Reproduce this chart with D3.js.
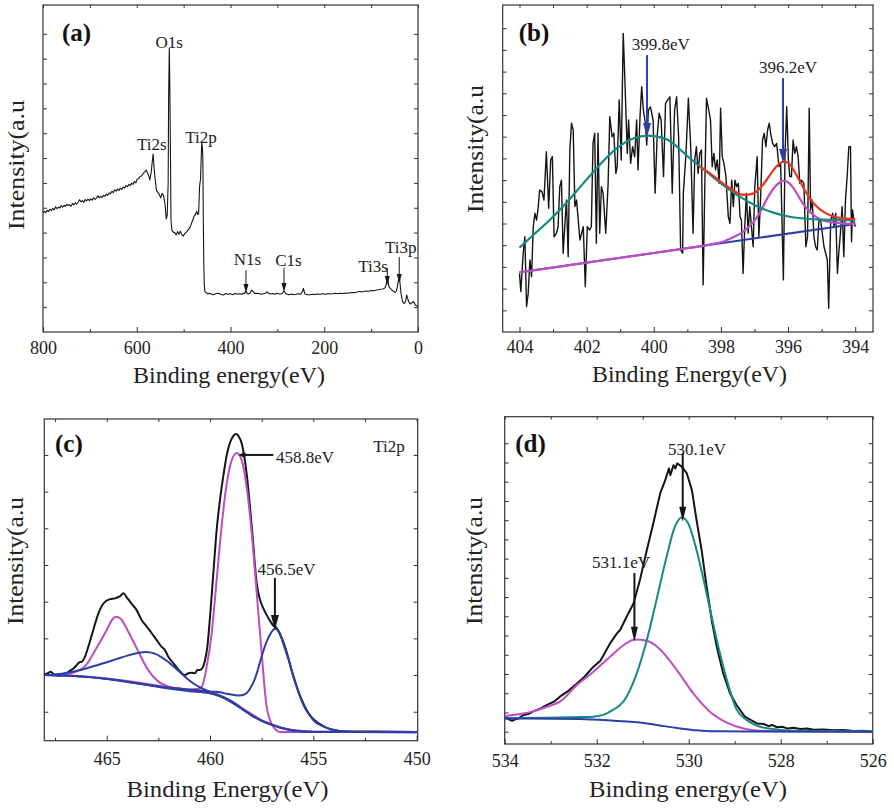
<!DOCTYPE html>
<html>
<head>
<meta charset="utf-8">
<script src="https://cdn.jsdelivr.net/npm/d3@7"></script>
<style>
  body { margin: 0; background: #fff; }
  svg { display: block; }
</style>
</head>
<body>
<div id="chart"></div>
<script>
// ---------- (a) survey spectrum ----------
const surveyA = [
  [800,47.9],[797,48.6],[794,48.0],[791,49.0],[788,48.5],[785,49.4],[782,48.9],[779,49.8],[776,49.2],[773,50.4],
  [770,49.6],[767,50.3],[764,49.9],[761,50.9],[758,50.2],[755,51.0],[752,50.5],[749,51.4],[746,50.9],[743,51.2],
  [740,50.6],[737,51.7],[734,51.2],[731,52.0],[728,51.5],[725,52.3],[722,53.2],[719,52.4],[716,52.9],[713,52.2],
  [710,53.3],[707,52.8],[704,53.5],[701,52.9],[698,53.6],[695,53.1],[692,54.0],[689,53.4],[686,53.9],[683,54.8],
  [680,54.0],[677,54.6],[674,54.1],[671,55.0],[668,54.6],[665,55.5],[662,55.0],[659,56.0],[656,55.6],[653,56.6],
  [650,56.1],[647,57.2],[644,56.7],[641,57.5],[638,57.0],[635,57.9],[632,57.4],[629,58.3],[626,57.9],[623,58.9],
  [620,58.4],[617,59.4],[614,58.9],[611,59.9],[608,59.4],[605,60.6],[602,60.0],[599,61.5],[596,61.8],[593,62.6],
  [590,62.8],[587,63.6],[584,64.2],[580,65.2],[577,64.0],[575,63.2],[572,61.2],[569,64.5],[567,68.5],[565,71.6],
  [563,66.0],[561,62.0],[558,57.0],[555,56.2],[552,55.4],[549,54.0],[546,55.8],[543,55.0],[540,52.0],[537,45.5],
  [535,47.0],[533,60.0],[532,95.0],[530.5,114.2],[529.5,100.0],[528,70.0],[527,45.0],[525,41.0],[522,40.2],[519,40.0],
  [516,39.0],[513,40.4],[510,39.3],[507,40.6],[504,39.2],[501,38.6],[498,39.5],[494,40.2],[490,41.2],[486,42.2],
  [482,44.3],[478,46.5],[475,47.2],[472,48.6],[470,47.3],[468,47.6],[466,58.5],[464,61.5],[462.5,70.0],[461.5,76.0],
  [460,74.5],[459,70.0],[458,45.0],[457,28.0],[456,19.0],[454.5,16.3],[452,15.8],[448,15.3],[444,15.6],[440,15.1],
  [436.6,15.0],[430,15.5],[426,15.6],[420,15.1],[415.3,14.9],[410,15.5],[405,15.2],[401.1,15.4],[395,15.0],[390,15.6],
  [386.9,15.2],[380,15.4],[375,15.1],[372.6,15.6],[370,15.5],[367,16.6],[364,15.4],[362,15.3],[358,15.7],[355,16.9],
  [350,15.9],[347.8,15.5],[340.6,15.6],[335,15.2],[330,15.4],[325,15.6],[322.8,16.2],[319,15.6],[315.7,15.3],[310,15.5],
  [305,15.2],[301.5,15.6],[295,15.3],[290,15.5],[285.9,16.5],[282,15.4],[280.2,15.3],[275,15.0],[270,15.3],[266,15.0],
  [260,15.2],[255,15.4],[250,15.2],[246,16.5],[244.6,17.6],[242,15.8],[241.1,15.3],[236,15.0],[230.4,15.0],[225,15.2],
  [220,15.1],[215,15.3],[209.1,15.2],[203,15.4],[197,15.2],[192,15.5],[187.7,15.3],[182,15.4],[176,15.6],[171,15.4],
  [166.4,15.6],[160,15.5],[155,15.7],[150,15.6],[145.1,15.8],[140,15.9],[135,15.8],[130,16.1],[125,16.3],[123.8,16.4],
  [120,16.1],[116.6,16.3],[110,16.5],[106,16.4],[102.4,16.6],[98,16.7],[94,16.6],[88.2,16.9],[84,17.0],[80,17.2],
  [76,17.3],[74,17.4],[70,17.8],[68.3,18.9],[65.4,21.6],[63.5,19.8],[61.9,18.2],[59,17.6],[56.2,16.9],[52,16.4],
  [49.1,15.8],[46.5,16.4],[44.1,18.2],[41.5,21.0],[39.8,22.3],[38,19.0],[36.3,15.6],[34,13.2],[32.7,12.2],[30.5,11.6],
  [28.5,11.5],[26,12.8],[24.2,14.9],[22,13.5],[20,12.2],[17.5,11.5],[15.6,11.3],[13,11.8],[10,12.2],[7.5,11.6],
  [5.7,10.9],[3,10.6],[0,10.2]
];
const labelsA = [
  {t:'O1s', be:531, v:114.3}, {t:'Ti2s', be:568, v:73.2}, {t:'Ti2p', be:463, v:76.1},
  {t:'N1s', be:363.7, v:27.0}, {t:'C1s', be:276.3, v:26.7}, {t:'Ti3s', be:96, v:24.3}, {t:'Ti3p', be:36.7, v:31.8}
];
const arrowsA = [
  {be:367, v1:24.9, v2:15.7}, {be:285.9, v1:25.8, v2:16.1},
  {be:65.5, v1:25.8, v2:18.9}, {be:40, v1:30.2, v2:19.7}
];
const xTicksA = [800, 600, 400, 200, 0];
const xMinorA = [700, 500, 300, 100];

// ---------- (b) N1s ----------
const rawB = [
  [404.0,2.70],[403.96,1.86],[403.89,3.63],[403.84,4.39],[403.79,1.17],[403.74,1.78],[403.69,3.32],[403.64,2.55],
  [403.59,4.85],[403.54,5.47],[403.49,5.16],[403.44,5.78],[403.40,6.54],[403.33,6.47],[403.27,6.08],[403.20,8.31],
  [403.13,5.70],[403.07,7.93],[403.02,8.08],[402.97,4.39],[402.90,4.55],[402.85,4.85],[402.80,6.70],[402.75,7.00],
  [402.70,3.63],[402.64,5.16],[402.60,6.08],[402.55,3.47],[402.50,8.39],[402.45,9.62],[402.40,9.31],[402.35,5.78],
  [402.30,6.08],[402.20,4.24],[402.10,4.85],[402.04,2.09],[401.98,4.85],[401.91,4.70],[401.86,4.85],[401.81,8.69],
  [401.76,9.16],[401.71,4.09],[401.66,9.16],[401.61,4.55],[401.56,6.70],[401.51,6.39],[401.43,4.55],[401.36,6.85],
  [401.31,9.92],[401.24,9.00],[401.19,9.16],[401.13,7.31],[401.09,7.62],[401.03,10.69],[400.97,7.93],[400.91,13.76],
  [400.86,11.61],[400.79,8.23],[400.75,9.77],[400.69,7.77],[400.63,8.54],[400.57,8.08],[400.51,9.77],[400.47,7.47],
  [400.41,9.92],[400.36,11.31],[400.31,10.23],[400.25,9.62],[400.21,8.62],[400.16,10.23],[400.10,10.38],[400.02,9.77],
  [399.96,6.39],[399.90,9.00],[399.84,10.08],[399.78,9.77],[399.71,7.16],[399.65,10.54],[399.59,10.69],[399.52,10.84],
  [399.45,6.39],[399.38,10.23],[399.32,10.84],[399.26,9.00],[399.20,3.78],[399.14,3.63],[399.12,6.39],[399.04,8.23],
  [398.97,10.77],[398.90,8.54],[398.83,4.55],[398.78,7.93],[398.73,8.54],[398.68,7.31],[398.63,8.23],[398.58,8.39],
  [398.53,2.17],[398.48,6.70],[398.43,10.77],[398.38,10.38],[398.31,9.77],[398.26,7.62],[398.21,8.23],[398.16,7.47],
  [398.11,7.93],[398.05,6.85],[398.01,10.31],[397.96,8.08],[397.91,7.77],[397.85,7.16],[397.78,5.31],[397.73,5.01],
  [397.68,7.00],[397.63,5.78],[397.58,7.00],[397.53,6.70],[397.48,6.85],[397.43,5.31],[397.39,5.16],[397.34,2.70],
  [397.29,4.85],[397.24,6.39],[397.19,4.55],[397.14,5.78],[397.09,4.85],[397.04,3.93],[396.99,6.70],[396.92,8.08],
  [396.87,4.39],[396.82,6.08],[396.76,8.85],[396.71,9.16],[396.66,8.54],[396.61,9.31],[396.56,9.62],[396.52,9.16],
  [396.46,8.69],[396.40,8.54],[396.34,8.69],[396.27,7.62],[396.22,7.77],[396.14,2.40],[396.09,8.23],[396.04,10.38],
  [395.99,7.93],[395.95,7.16],[395.90,7.16],[395.85,8.85],[395.80,8.23],[395.75,8.54],[395.70,8.08],[395.65,6.85],
  [395.60,7.00],[395.53,6.85],[395.47,3.93],[395.42,4.39],[395.37,10.31],[395.33,5.62],[395.28,6.08],[395.23,4.39],
  [395.18,3.93],[395.13,3.78],[395.08,5.16],[395.03,5.16],[394.98,4.55],[394.93,3.93],[394.88,3.63],[394.83,3.32],
  [394.79,1.09],[394.73,5.16],[394.67,5.47],[394.63,4.85],[394.58,5.47],[394.53,2.70],[394.49,3.63],[394.44,4.55],
  [394.39,5.78],[394.34,3.47],[394.29,6.08],[394.24,7.16],[394.19,8.54],[394.14,8.54],[394.11,4.16],[394.08,5.62],
  [394.04,5.16],[394.0,4.85]
];
const peak1B = [
  [404.0,3.89],[403.59,4.47],[403.10,5.16],[402.60,5.96],[402.10,6.85],[401.61,7.70],[401.11,8.46],[400.61,8.92],
  [400.17,9.05],[399.62,8.88],[399.12,8.28],[398.92,8.00],[398.43,7.39],[397.93,6.77],[397.44,6.24],[396.94,5.81],
  [396.44,5.50],[395.95,5.31],[395.45,5.22],[394.95,5.18],[394.46,5.16],[394.0,5.16]
];
const totalB = [
  [398.63,7.62],[398.43,7.42],[397.93,6.84],[397.63,6.52],[397.34,6.32],[397.04,6.38],[396.74,6.80],[396.44,7.45],
  [396.24,7.78],[396.14,7.85],[396.0,7.80],[395.85,7.50],[395.65,6.95],[395.45,6.40],[395.25,5.95],[395.05,5.65],
  [394.75,5.38],[394.46,5.26],[394.0,5.20]
];
const peak2B = [
  [404.0,2.75],[403.0,2.97],[402.0,3.20],[401.0,3.42],[400.0,3.64],[399.0,3.86],[398.5,3.98],[398.23,4.06],
  [397.93,4.16],[397.73,4.30],[397.44,4.52],[397.24,4.75],[397.04,5.05],[396.84,5.50],[396.64,6.10],[396.44,6.60],
  [396.24,6.90],[396.14,6.97],[396.0,6.90],[395.85,6.65],[395.65,6.15],[395.45,5.70],[395.25,5.40],[395.05,5.20],
  [394.75,5.07],[394.46,5.02],[394.0,4.98]
];
const baseB = [[404.0,2.75],[394.0,4.98]];
const labelsB = [{t:'399.8eV', be:399.79, v:13.0}, {t:'396.2eV', be:396.0, v:11.94}];
const arrowsB = [{be:400.2, v1:12.76, v2:8.99}, {be:396.15, v1:11.7, v2:7.79}];
const xTicksB = [404, 402, 400, 398, 396, 394];
const xMinorB = [403, 401, 399, 397, 395];

// ---------- (c) Ti2p ----------
const rawC = [
  [468.02,2.02],[467.82,2.06],[467.71,2.09],[467.58,2.03],[467.42,1.99],[467.26,1.99],[467.10,2.03],[466.94,2.06],
  [466.77,2.12],[466.61,2.18],[466.45,2.27],[466.32,2.35],[466.21,2.36],[466.05,2.50],[465.89,2.77],[465.65,3.23],
  [465.40,3.68],[465.16,3.95],[464.84,4.07],[464.60,4.09],[464.35,4.15],[464.19,4.23],[464.03,4.12],[463.79,3.94],
  [463.55,3.77],[463.31,3.50],[463.06,3.32],[462.82,3.14],[462.58,2.95],[462.34,2.77],[462.18,2.68],[462.02,2.50],
  [461.77,2.32],[461.53,2.15],[461.37,2.05],[461.21,2.00],[461.05,2.05],[460.89,2.06],[460.73,2.05],[460.61,2.14],
  [460.48,2.14],[460.35,2.21],[460.24,2.41],[460.13,2.77],[460.00,3.59],[459.84,4.77],[459.68,5.95],[459.52,6.77],
  [459.35,7.45],[459.19,8.00],[459.03,8.34],[458.87,8.52],[458.74,8.57],[458.63,8.52],[458.47,8.32],[458.23,7.50],
  [457.98,6.05],[457.74,4.50],[457.58,4.05],[457.42,3.82],[457.26,3.64],[457.10,3.48],[456.94,3.35],[456.77,3.28],
  [456.61,3.10],[456.45,2.90],[456.29,2.62],[456.13,2.30],[455.97,1.98],[455.81,1.70],[455.65,1.44],[455.48,1.22],
  [455.32,1.04],[455.16,0.90],[454.92,0.76],[454.68,0.66],[454.35,0.56],[454.03,0.50],[453.55,0.47],[452.0,0.46],
  [450.0,0.45]
];
const sat1C = [   // magenta, 2p1/2
  [468.0,2.00],[467.0,2.03],[466.5,2.09],[466.0,2.27],[465.5,2.73],[465.0,3.23],[464.75,3.50],[464.55,3.59],
  [464.3,3.52],[464.0,3.23],[463.5,2.68],[463.0,2.14],[462.5,1.82],[462.0,1.68],[461.5,1.63],[461.0,1.59],
  [460.5,1.55],[460.0,1.50],[459.5,1.44],[459.0,1.30],[458.5,1.12],[458.0,0.94],[457.5,0.77],[457.0,0.65],
  [456.5,0.56],[456.0,0.50],[455.0,0.46],[450.0,0.45]
];
const mainC = [   // magenta, 2p3/2
  [468.0,2.00],[466.0,1.96],[464.0,1.84],[462.0,1.67],[461.0,1.61],[460.6,1.62],[460.40,1.68],[460.16,2.23],
  [459.92,3.14],[459.68,4.59],[459.44,6.05],[459.19,7.23],[458.95,7.86],[458.71,8.05],[458.47,7.86],[458.23,7.14],
  [457.98,5.86],[457.74,4.23],[457.50,2.59],[457.26,1.14],[456.94,0.59],[456.61,0.45],[450.0,0.45]
];
const broadC = [  // blue, broad component
  [468.0,2.00],[467.0,2.05],[466.0,2.18],[465.0,2.35],[464.5,2.44],[464.0,2.53],[463.5,2.60],[463.1,2.63],
  [462.7,2.59],[462.3,2.47],[462.0,2.35],[461.6,2.15],[461.2,1.95],[460.8,1.77],[460.4,1.64],[460.0,1.54],
  [459.6,1.46],[459.2,1.36],[458.8,1.23],[458.4,1.06],[458.0,0.90],[457.5,0.75],[457.0,0.64],[456.5,0.55],
  [456.0,0.49],[455.0,0.45],[450.0,0.45]
];
const lowC = [    // blue, 456.5 eV component
  [468.0,2.00],[467.0,1.99],[466.0,1.95],[465.0,1.89],[464.0,1.81],[463.0,1.73],[462.0,1.66],[461.5,1.63],
  [461.0,1.60],[460.5,1.58],[460.0,1.55],[459.5,1.53],[459.2,1.49],[458.9,1.46],[458.6,1.44],[458.3,1.48],
  [458.05,1.64],[457.8,1.94],[457.55,2.41],[457.3,2.86],[457.05,3.15],[456.85,3.26],[456.65,3.17],[456.45,2.85],
  [456.2,2.42],[455.95,1.92],[455.7,1.50],[455.45,1.15],[455.2,0.92],[454.95,0.74],[454.6,0.62],[454.2,0.53],
  [453.7,0.47],[453.0,0.45],[450.0,0.44]
];
const bgC = [
  [468.0,2.00],[466.0,1.95],[465.0,1.90],[464.0,1.82],[463.0,1.73],[462.0,1.63],[461.0,1.56],[460.0,1.50],
  [459.5,1.41],[459.0,1.27],[458.5,1.09],[458.0,0.91],[457.5,0.75],[457.0,0.64],[456.5,0.55],[456.0,0.49],
  [455.0,0.45],[453.0,0.45],[450.0,0.44]
];
const labelsC = [{t:'456.5eV', be:456.3, v:4.73}];
const arrowsC = [{be:456.86, v1:4.65, v2:3.23}];
const leaderC = {be1:458.63, be2:456.94, v:8.0, t:'458.8eV', tbe:456.81, tv:7.77};
const xTicksC = [465, 460, 455, 450];
const xMinorC = [467.5, 462.5, 457.5, 452.5];

// ---------- (d) O1s ----------
const rawD = [
  [534.0,1.78],[533.91,1.64],[533.84,1.57],[533.77,1.64],[533.70,1.69],[533.59,1.87],[533.48,1.92],[533.37,2.07],
  [533.22,2.21],[533.08,2.39],[532.93,2.56],[532.80,2.82],[532.64,3.08],[532.43,3.51],[532.28,3.82],[532.07,4.38],
  [531.92,4.69],[531.71,5.59],[531.56,6.11],[531.49,6.29],[531.35,6.98],[531.20,7.67],[531.06,8.89],[530.91,10.45],
  [530.77,11.83],[530.62,13.39],[530.51,14.08],[530.43,14.69],[530.40,14.34],[530.33,14.86],[530.29,14.69],[530.25,14.95],
  [530.15,14.78],[530.04,14.43],[529.93,13.56],[529.83,12.01],[529.72,10.45],[529.61,8.54],[529.50,6.81],[529.39,5.42],
  [529.25,4.03],[529.10,2.99],[528.96,2.39],[528.78,1.78],[528.52,1.43],[528.37,1.40],[528.26,1.29],[528.19,1.35],
  [528.08,1.23],[527.97,1.26],[527.86,1.17],[527.72,1.21],[527.57,1.14],[527.43,1.17],[527.28,1.10],[527.07,1.12],
  [526.85,1.07],[526.63,1.09],[526.41,1.03],[526.20,1.05],[526.0,1.00]
];
const latticeD = [ // teal, 530.1 eV
  [534.0,1.69],[533.08,1.73],[532.36,1.76],[532.07,1.78],[531.71,2.04],[531.35,2.82],[531.13,4.03],[530.91,5.77],
  [530.70,7.85],[530.48,10.10],[530.30,11.66],[530.15,12.14],[530.01,11.83],[529.83,10.45],[529.61,8.19],[529.39,5.77],
  [529.17,3.69],[528.96,2.16],[528.74,1.61],[528.45,1.26],[528.09,1.12],[527.64,1.05],[526.0,1.02]
];
const hydroxD = [ // magenta, 531.1 eV
  [534.0,1.81],[533.66,1.92],[533.37,2.07],[533.08,2.30],[532.80,2.56],[532.43,3.43],[532.07,4.12],[531.71,4.90],
  [531.41,5.51],[531.17,5.80],[530.91,5.73],[530.62,5.28],[530.26,4.21],[529.90,2.99],[529.54,2.04],[529.17,1.47],
  [528.81,1.17],[528.45,1.05],[528.01,1.02],[526.0,1.00]
];
const bgD = [
  [534.0,1.69],[532.36,1.66],[531.63,1.57],[531.20,1.50],[530.91,1.43],[530.54,1.29],[530.18,1.17],[529.82,1.07],
  [529.46,1.02],[526.0,1.00]
];
const labelsD = [{t:'530.1eV', be:529.82, v:15.39}, {t:'531.1eV', be:531.47, v:9.51}];
const arrowsD = [{be:530.13, v1:15.49, v2:11.92}, {be:531.18, v1:9.25, v2:5.68}];
const xTicksD = [534, 532, 530, 528, 526];
const xMinorD = [533, 531, 529, 527];

// ---------- drawing ----------
const SERIF = '"Liberation Serif", "Times New Roman", serif';
const BLACK = '#151515', TEAL = '#138a84', MAG = '#c04cc2', RED = '#e5361f', BLUE = '#2c3fa6';

const svg = d3.select('#chart').append('svg')
  .attr('width', 894).attr('height', 808)
  .style('background', '#fff');

function panel(c) {
  const g = svg.append('g');
  const x = d3.scaleLinear().domain(c.xDomain).range([c.x0, c.x1]);
  const y = d3.scaleLinear().domain(c.yDomain).range([c.y1, c.y0]);

  const styleAxis = sel => {
    sel.select('.domain').remove();
    sel.selectAll('line').attr('stroke', '#333');
    sel.attr('font-family', SERIF).attr('font-size', 18);
    sel.selectAll('text').attr('fill', '#222');
  };
  g.append('g').attr('transform', 'translate(0,' + c.y1 + ')')
    .call(d3.axisBottom(x).tickValues(c.xMajor).tickSize(-5).tickPadding(c.pad).tickFormat(d3.format('d')))
    .call(styleAxis);
  g.append('g').attr('transform', 'translate(0,' + c.y1 + ')')
    .call(d3.axisBottom(x).tickValues(c.xMinor).tickSize(-3).tickFormat(''))
    .call(styleAxis);
  g.append('g').attr('transform', 'translate(0,' + c.y0 + ')')
    .call(d3.axisTop(x).tickValues(c.xMajor.concat(c.xMinor)).tickSize(-3).tickFormat(''))
    .call(styleAxis);
  g.append('g').attr('transform', 'translate(' + c.x0 + ',0)')
    .call(d3.axisLeft(y).tickValues(c.yTicks).tickSize(-4).tickFormat(''))
    .call(styleAxis);
  g.append('g').attr('transform', 'translate(' + c.x1 + ',0)')
    .call(d3.axisRight(y).tickValues(c.yTicks).tickSize(-4).tickFormat(''))
    .call(styleAxis);

  g.append('rect')
    .attr('x', c.x0).attr('y', c.y0)
    .attr('width', c.x1 - c.x0).attr('height', c.y1 - c.y0)
    .attr('fill', 'none').attr('stroke', '#333').attr('stroke-width', 1.2);

  // series
  c.series.forEach(s => {
    const line = d3.line().x(d => x(d[0])).y(d => y(d[1]))
      .curve(s.smooth ? d3.curveMonotoneX : d3.curveLinear);
    g.append('path').datum(s.data)
      .attr('d', line)
      .attr('fill', 'none')
      .attr('stroke', s.color)
      .attr('stroke-width', s.w)
      .attr('stroke-linejoin', 'round');
  });

  // arrows
  (c.arrows || []).forEach(a => {
    const ax = x(a.be), ya = y(a.v1), yb = y(a.v2);
    g.append('line').attr('x1', ax).attr('x2', ax).attr('y1', ya).attr('y2', yb - c.head * 0.6)
      .attr('stroke', c.arrowColor).attr('stroke-width', c.arrowW);
    g.append('path')
      .attr('d', 'M' + ax + ',' + yb + 'L' + (ax - c.headW / 2) + ',' + (yb - c.head) +
                 'L' + (ax + c.headW / 2) + ',' + (yb - c.head) + 'Z')
      .attr('fill', c.arrowColor);
  });

  // peak labels
  (c.labels || []).forEach(l => {
    g.append('text').attr('x', x(l.be)).attr('y', y(l.v))
      .attr('text-anchor', 'middle')
      .attr('font-family', SERIF).attr('font-size', 17).attr('fill', '#222')
      .text(l.t);
  });

  if (c.leader) {
    const L = c.leader;
    g.append('line').attr('x1', x(L.be1) + 4).attr('x2', x(L.be2)).attr('y1', y(L.v)).attr('y2', y(L.v))
      .attr('stroke', BLACK).attr('stroke-width', 2);
    g.append('path')
      .attr('d', 'M' + x(L.be1) + ',' + y(L.v) + 'l7,-3l0,6Z').attr('fill', BLACK);
    g.append('text').attr('x', x(L.tbe)).attr('y', y(L.tv))
      .attr('font-family', SERIF).attr('font-size', 17).attr('fill', '#222').text(L.t);
  }
  if (c.corner) {
    g.append('text').attr('x', x(c.corner.be)).attr('y', y(c.corner.v))
      .attr('text-anchor', 'middle')
      .attr('font-family', SERIF).attr('font-size', 17).attr('fill', '#222').text(c.corner.t);
  }

  // panel letter
  g.append('text').attr('x', c.lx).attr('y', c.ly)
    .attr('font-family', SERIF).attr('font-size', 25).attr('font-weight', 'bold')
    .attr('fill', '#111').text(c.letter);

  // axis titles
  g.append('text').attr('x', c.xt[0]).attr('y', c.xt[1])
    .attr('text-anchor', 'middle')
    .attr('font-family', SERIF).attr('font-size', 23).attr('fill', '#222')
    .attr('textLength', c.xt[2]).attr('lengthAdjust', 'spacingAndGlyphs')
    .text(c.xTitle);
  g.append('text')
    .attr('transform', 'translate(' + c.yt[0] + ',' + c.yt[1] + ') rotate(-90)')
    .attr('text-anchor', 'middle')
    .attr('font-family', SERIF).attr('font-size', 23).attr('fill', '#222')
    .attr('textLength', c.yt[2]).attr('lengthAdjust', 'spacingAndGlyphs')
    .text('Intensity(a.u');
}

panel({
  x0: 43, x1: 418, y0: 5, y1: 332, pad: 9,
  xDomain: [800, 0], xMajor: xTicksA, xMinor: xMinorA,
  yDomain: [0, 131.6], yTicks: d3.range(10, 121, 10),
  series: [{data: surveyA, color: BLACK, w: 1.1}],
  arrows: arrowsA, head: 9, headW: 5, arrowColor: BLACK, arrowW: 1,
  labels: labelsA,
  letter: '(a)', lx: 62, ly: 41,
  xTitle: 'Binding energy(eV)', xt: [229, 383, 192], yt: [24, 165, 130]
});

panel({
  x0: 502.7, x1: 873, y0: 5, y1: 332, pad: 8,
  xDomain: [404.5, 393.47], xMajor: xTicksB, xMinor: xMinorB,
  yDomain: [0, 15.07], yTicks: d3.range(1, 15),
  series: [
    {data: rawB, color: BLACK, w: 1.4},
    {data: baseB, color: BLUE, w: 2},
    {data: peak2B, color: MAG, w: 2.2, smooth: true},
    {data: peak1B, color: TEAL, w: 2.2, smooth: true},
    {data: totalB, color: RED, w: 2.2, smooth: true}
  ],
  arrows: arrowsB, head: 14, headW: 8, arrowColor: BLUE, arrowW: 2,
  labels: labelsB,
  letter: '(b)', lx: 518.7, ly: 41,
  xTitle: 'Binding Energy(eV)', xt: [689.5, 381.7, 195], yt: [483, 149, 128]
});

panel({
  x0: 44.3, x1: 417.7, y0: 419, y1: 740.7, pad: 11.5,
  xDomain: [468.02, 449.95], xMajor: xTicksC, xMinor: xMinorC,
  yDomain: [0.21, 8.98], yTicks: d3.range(1, 9),
  series: [
    {data: rawC, color: BLACK, w: 2, smooth: true},
    {data: sat1C, color: MAG, w: 2, smooth: true},
    {data: mainC, color: MAG, w: 2, smooth: true},
    {data: broadC, color: BLUE, w: 2, smooth: true},
    {data: lowC, color: BLUE, w: 2, smooth: true},
    {data: bgC, color: BLUE, w: 2, smooth: true}
  ],
  arrows: arrowsC, head: 15, headW: 8, arrowColor: BLACK, arrowW: 2,
  labels: labelsC, leader: leaderC,
  corner: {t: 'Ti2p', be: 451.34, v: 8.09},
  letter: '(c)', lx: 55, ly: 452,
  xTitle: 'Binding Energy(eV)', xt: [227.5, 796.7, 202], yt: [23.3, 561, 128]
});

panel({
  x0: 504.7, x1: 872.7, y0: 416.7, y1: 744, pad: 10,
  xDomain: [534, 526], xMajor: xTicksD, xMinor: xMinorD,
  yDomain: [0.36, 17.38], yTicks: d3.range(1, 17),
  series: [
    {data: rawD, color: BLACK, w: 2},
    {data: hydroxD, color: MAG, w: 2, smooth: true},
    {data: latticeD, color: TEAL, w: 2, smooth: true},
    {data: bgD, color: BLUE, w: 2, smooth: true}
  ],
  arrows: arrowsD, head: 15, headW: 7, arrowColor: BLACK, arrowW: 2,
  labels: labelsD,
  letter: '(d)', lx: 515.3, ly: 452,
  xTitle: 'Binding energy(eV)', xt: [688, 796.7, 198], yt: [482, 561, 128]
});
</script>
</body>
</html>
